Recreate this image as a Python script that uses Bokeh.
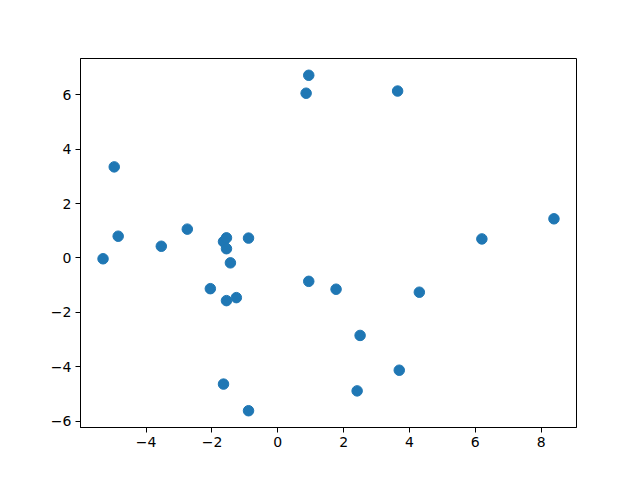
from bokeh.plotting import figure
from bokeh.models import FixedTicker, Range1d
from bokeh.embed import file_html
from bokeh.resources import INLINE

x_vals = [-5.31, -4.97, -4.85, -3.54, -2.75, -2.05, -1.65, -1.56, -1.56, -1.44,
          -1.26, -1.56, -1.65, -0.89, -0.89, 0.86, 0.94, 0.94, 1.77, 2.50,
          2.41, 3.64, 3.69, 4.30, 6.20, 8.39]
y_vals = [-0.03, 3.35, 0.80, 0.43, 1.06, -1.13, 0.60, 0.74, 0.34, -0.18,
          -1.46, -1.57, -4.64, 0.73, -5.62, 6.06, 6.72, -0.86, -1.15, -2.85,
          -4.89, 6.14, -4.13, -1.26, 0.70, 1.44]

x_ticks = [-4, -2, 0, 2, 4, 6, 8]
y_ticks = [-6, -4, -2, 0, 2, 4, 6]
x_tick_labels = ["\u22124", "\u22122", "0", "2", "4", "6", "8"]
y_tick_labels = ["\u22126", "\u22124", "\u22122", "0", "2", "4", "6"]

pad_x = 0.05 * (max(x_vals) - min(x_vals))
pad_y = 0.05 * (max(y_vals) - min(y_vals))

p = figure(width=624, height=464, output_backend="svg", toolbar_location=None,
           x_range=Range1d(min(x_vals) - pad_x, max(x_vals) + pad_x),
           y_range=Range1d(min(y_vals) - pad_y, max(y_vals) + pad_y),
           min_border_left=80, min_border_right=48, min_border_top=58, min_border_bottom=37)

p.scatter(x_vals, y_vals, size=10.5, fill_color="#1f77b4", line_color="#1f77b4")

p.xgrid.visible = False
p.ygrid.visible = False
p.outline_line_color = "black"
p.outline_line_width = 1
p.background_fill_color = "white"
p.border_fill_color = "white"

for ax, ticks, labels in ((p.xaxis[0], x_ticks, x_tick_labels), (p.yaxis[0], y_ticks, y_tick_labels)):
    ax.ticker = FixedTicker(ticks=ticks)
    ax.major_label_overrides = {t: l for t, l in zip(ticks, labels)}
    ax.minor_tick_line_color = None
    ax.major_tick_in = 0
    ax.major_tick_out = 5
    ax.axis_line_color = "black"
    ax.major_tick_line_color = "black"
    ax.major_label_text_font = "DejaVu Sans"
    ax.major_label_text_font_size = "14px"
    ax.major_label_text_color = "black"
    ax.major_label_standoff = 4

open("out.html", "w").write(file_html(p, INLINE))
